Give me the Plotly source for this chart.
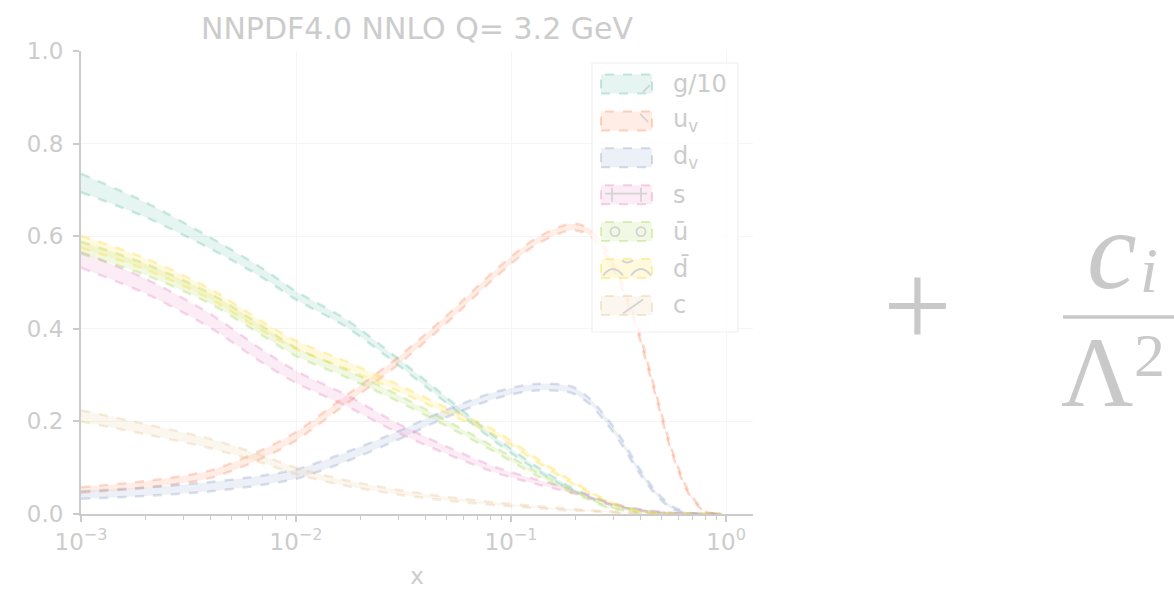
import plotly.graph_objects as go

# ---------------- data ----------------
x_grid = [0.001, 0.002, 0.004, 0.007, 0.01, 0.017, 0.029, 0.05, 0.085, 0.13,
          0.19, 0.23, 0.28, 0.33, 0.39, 0.47, 0.56, 0.67, 0.8, 0.95]

g10 = [0.715, 0.657, 0.585, 0.520, 0.472, 0.413, 0.333, 0.246, 0.160, 0.100,
       0.055, 0.038, 0.024, 0.015, 0.009, 0.004, 0.002, 0.0008, 0.0002, 0.0]
g10_err = [0.020, 0.016, 0.012, 0.010, 0.009, 0.008, 0.007, 0.006, 0.005, 0.004,
           0.003, 0.002, 0.002, 0.001, 0.001, 0.001, 0.0, 0.0, 0.0, 0.0]

uv = [0.052, 0.064, 0.086, 0.130, 0.168, 0.246, 0.326, 0.420, 0.520, 0.588,
      0.620, 0.610, 0.560, 0.490, 0.395, 0.260, 0.135, 0.046, 0.005, 0.0]
uv_err = [0.006, 0.007, 0.008, 0.009, 0.009, 0.009, 0.008, 0.008, 0.008, 0.007,
          0.007, 0.007, 0.007, 0.006, 0.006, 0.005, 0.004, 0.003, 0.001, 0.0]

dv = [0.041, 0.048, 0.059, 0.073, 0.086, 0.123, 0.167, 0.217, 0.257, 0.274,
      0.269, 0.245, 0.200, 0.153, 0.097, 0.046, 0.014, 0.002, 0.0, 0.0]
dv_err = [0.008, 0.009, 0.010, 0.010, 0.010, 0.010, 0.009, 0.008, 0.007, 0.007,
          0.007, 0.006, 0.006, 0.006, 0.005, 0.004, 0.003, 0.001, 0.0, 0.0]

s = [0.549, 0.492, 0.417, 0.340, 0.296, 0.246, 0.188, 0.138, 0.095, 0.070,
     0.050, 0.038, 0.024, 0.016, 0.010, 0.005, 0.002, 0.001, 0.0, 0.0]
s_err = [0.017, 0.016, 0.015, 0.014, 0.013, 0.012, 0.010, 0.008, 0.006, 0.005,
         0.004, 0.003, 0.002, 0.002, 0.001, 0.001, 0.0, 0.0, 0.0, 0.0]

ubar = [0.575, 0.528, 0.465, 0.395, 0.350, 0.304, 0.253, 0.196, 0.138, 0.088,
        0.050, 0.033, 0.016, 0.009, 0.004, 0.001, 0.0, 0.0, 0.0, 0.0]
ubar_err = [0.013, 0.012, 0.011, 0.010, 0.009, 0.008, 0.007, 0.006, 0.005, 0.004,
            0.003, 0.002, 0.002, 0.001, 0.001, 0.0, 0.0, 0.0, 0.0, 0.0]

dbar = [0.588, 0.540, 0.475, 0.405, 0.365, 0.322, 0.275, 0.224, 0.174, 0.118,
        0.070, 0.048, 0.027, 0.015, 0.007, 0.002, 0.0, 0.0, 0.0, 0.0]
dbar_err = [0.013, 0.012, 0.011, 0.010, 0.009, 0.008, 0.007, 0.006, 0.005, 0.004,
            0.003, 0.002, 0.002, 0.001, 0.001, 0.0, 0.0, 0.0, 0.0, 0.0]

c = [0.212, 0.183, 0.152, 0.118, 0.093, 0.067, 0.048, 0.033, 0.022, 0.015,
     0.009, 0.007, 0.005, 0.003, 0.002, 0.001, 0.0005, 0.0, 0.0, 0.0]
c_err = [0.012, 0.011, 0.010, 0.008, 0.007, 0.006, 0.005, 0.004, 0.003, 0.002,
         0.002, 0.001, 0.001, 0.001, 0.0, 0.0, 0.0, 0.0, 0.0, 0.0]

series_names = ["g/10", "u<sub>v</sub>", "d<sub>v</sub>", "s", "ū", "d\u0304", "c"]
series_vals = [g10, uv, dv, s, ubar, dbar, c]
series_errs = [g10_err, uv_err, dv_err, s_err, ubar_err, dbar_err, c_err]
series_rgb = [(102, 194, 165), (252, 141, 98), (141, 160, 203), (231, 138, 195),
              (166, 216, 84), (255, 217, 47), (229, 196, 148)]

x_tickvals = [0.001, 0.01, 0.1, 1]
x_ticktext = ["10<sup>−3</sup>", "10<sup>−2</sup>", "10<sup>−1</sup>", "10<sup>0</sup>"]
y_tickvals = [0.0, 0.2, 0.4, 0.6, 0.8, 1.0]
minor_vals = [m * d for d in (0.001, 0.01, 0.1, 1) for m in range(2, 10)]

title_text = "NNPDF4.0 NNLO Q= 3.2 GeV"

# ---------------- figure ----------------
TXT = "#cccccc"
AX = "#cbcbcb"
FONT = "DejaVu Sans"
W, H = 1174, 589
L, R, T, B = 81, 753, 51, 514


def px(xp):
    return (xp - L) / (R - L)


def py(yp):
    return (B - yp) / (B - T)


fig = go.Figure()
for name, vals, errs, rgb in zip(series_names, series_vals, series_errs, series_rgb):
    up = [v + e for v, e in zip(vals, errs)]
    lo = [max(v - e, 0.0) for v, e in zip(vals, errs)]
    edge = "rgba(%d,%d,%d,0.32)" % rgb
    fill = "rgba(%d,%d,%d,0.16)" % rgb
    fig.add_trace(go.Scatter(x=x_grid, y=up, mode="lines",
                             line=dict(color=edge, width=2.5, dash="dash", shape="spline", smoothing=0.8),
                             showlegend=False, hoverinfo="skip"))
    fig.add_trace(go.Scatter(x=x_grid, y=lo, mode="lines", fill="tonexty", fillcolor=fill,
                             line=dict(color=edge, width=2.5, dash="dash", shape="spline", smoothing=0.8),
                             name=name, showlegend=False))

fig.update_layout(
    width=W, height=H,
    margin=dict(l=L, r=W - R, t=T, b=H - B, autoexpand=False),
    paper_bgcolor="white", plot_bgcolor="white",
    font=dict(family=FONT, size=23, color=TXT),
    title=dict(text=title_text, x=417 / W, xanchor="center", xref="container",
               y=1 - 28 / H, yanchor="middle", yref="container",
               font=dict(size=30, color=TXT, family=FONT)),
    showlegend=False,
)

fig.update_xaxes(type="log", range=[-3, 0.125], automargin=False,
                 showline=True, linecolor=AX, linewidth=2,
                 ticks="outside", ticklen=6, tickwidth=1.5, tickcolor=AX,
                 tickvals=x_tickvals, ticktext=x_ticktext,
                 tickfont=dict(size=23, color=TXT, family=FONT),
                 showgrid=True, gridcolor="#f5f5f5", gridwidth=1, zeroline=False,
                 minor=dict(tickvals=minor_vals, ticks="outside", ticklen=4, tickwidth=1.2,
                            tickcolor=AX, showgrid=False),
                 title=dict(text="x", font=dict(size=23, color=TXT, family=FONT), standoff=14))

fig.update_yaxes(range=[0, 1], automargin=False, showline=True, linecolor=AX, linewidth=2,
                 ticks="outside", ticklen=6, tickwidth=1.5, tickcolor=AX,
                 tickvals=y_tickvals, tickformat=".1f", ticklabelstandoff=5,
                 tickfont=dict(size=23, color=TXT, family=FONT),
                 showgrid=True, gridcolor="#f5f5f5", gridwidth=1, zeroline=False)

# ---------------- legend (drawn as a framed box) ----------------
fig.add_shape(type="rect", xref="paper", yref="paper",
              x0=px(592), x1=px(738), y0=py(332), y1=py(63),
              fillcolor="rgba(255,255,255,0.8)", line=dict(color="#efefef", width=1.2),
              layer="above")
HATCH = dict(color="#d4d4d4", width=1.8)
for k, (name, rgb) in enumerate(zip(series_names, series_rgb)):
    yc = 84 + 36.9 * k
    fig.add_shape(type="rect", xref="paper", yref="paper",
                  x0=px(601), x1=px(652), y0=py(yc + 9.5), y1=py(yc - 9.5),
                  fillcolor="rgba(%d,%d,%d,0.16)" % rgb,
                  line=dict(color="rgba(%d,%d,%d,0.38)" % rgb, width=2, dash="dash"),
                  layer="above")
    fig.add_annotation(text=name, xref="paper", yref="paper", x=px(671), y=py(yc),
                       xanchor="left", yanchor="middle", showarrow=False,
                       font=dict(size=24, color=TXT, family=FONT))
    # hatch glimpses inside the swatches
    if k == 0:
        fig.add_shape(type="line", xref="paper", yref="paper", x0=px(643), y0=py(yc + 8),
                      x1=px(650), y1=py(yc + 1), line=HATCH, layer="above")
    elif k == 1:
        fig.add_shape(type="line", xref="paper", yref="paper", x0=px(640), y0=py(yc - 7),
                      x1=px(648), y1=py(yc + 1), line=HATCH, layer="above")
    elif k == 3:
        fig.add_shape(type="line", xref="paper", yref="paper", x0=px(605), y0=py(yc - 1),
                      x1=px(647), y1=py(yc - 1), line=HATCH, layer="above")
        for xv in (612, 641):
            fig.add_shape(type="line", xref="paper", yref="paper", x0=px(xv), y0=py(yc - 7),
                          x1=px(xv), y1=py(yc + 7), line=HATCH, layer="above")
    elif k == 4:
        for xv in (615, 641):
            fig.add_shape(type="circle", xref="paper", yref="paper",
                          x0=px(xv - 4.5), x1=px(xv + 4.5), y0=py(yc + 4.5), y1=py(yc - 4.5),
                          line=HATCH, layer="above")
    elif k == 5:
        for x0, x1 in ((603, 623), (631, 651)):
            xm = (x0 + x1) / 2
            path = "M %f,%f Q %f,%f %f,%f" % (px(x0), py(yc + 7), px(xm), py(yc - 6), px(x1), py(yc + 7))
            fig.add_shape(type="path", xref="paper", yref="paper", path=path, line=HATCH, layer="above")
        path = "M %f,%f Q %f,%f %f,%f" % (px(622), py(yc - 8), px(627), py(yc - 4), px(633), py(yc - 8))
        fig.add_shape(type="path", xref="paper", yref="paper", path=path, line=HATCH, layer="above")
    elif k == 6:
        fig.add_shape(type="line", xref="paper", yref="paper", x0=px(623), y0=py(yc + 8),
                      x1=px(643), y1=py(yc - 6), line=HATCH, layer="above")

# ---------------- right-hand formula fragment ----------------
MATH = "#c9c9c9"
SERIF = "Liberation Serif"
fig.add_annotation(text="+", xref="paper", yref="paper", x=px(918), y=py(305),
                   showarrow=False, font=dict(family=SERIF, size=122, color=MATH),
                   xanchor="center", yanchor="middle")
fig.add_annotation(text="<i>c</i>", xref="paper", yref="paper", x=px(1112), y=py(250),
                   showarrow=False, font=dict(family=SERIF, size=112, color=MATH),
                   xanchor="center", yanchor="middle")
fig.add_annotation(text="<i>i</i>", xref="paper", yref="paper", x=px(1149), y=py(270),
                   showarrow=False, font=dict(family=SERIF, size=64, color=MATH),
                   xanchor="center", yanchor="middle")
fig.add_shape(type="line", xref="paper", yref="paper",
              x0=px(1063), x1=px(1180), y0=py(317), y1=py(317),
              line=dict(color=MATH, width=3.5))
fig.add_annotation(text="Λ", xref="paper", yref="paper", x=px(1097), y=py(372),
                   showarrow=False, font=dict(family=SERIF, size=100, color=MATH),
                   xanchor="center", yanchor="middle")
fig.add_annotation(text="2", xref="paper", yref="paper", x=px(1149), y=py(355),
                   showarrow=False, font=dict(family=SERIF, size=62, color=MATH),
                   xanchor="center", yanchor="middle")

fig.write_html("out.html")
